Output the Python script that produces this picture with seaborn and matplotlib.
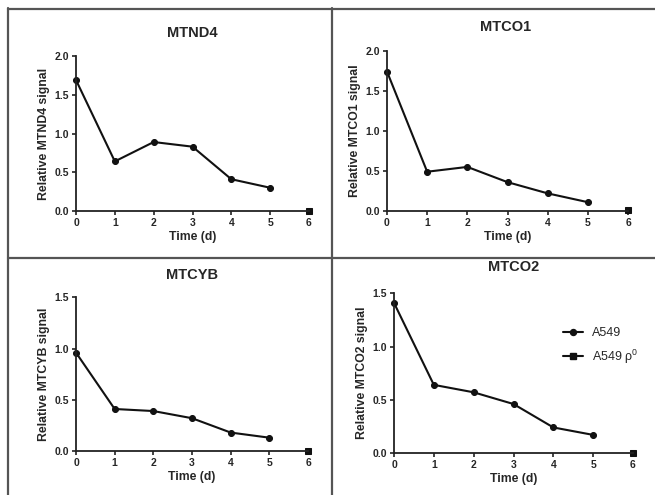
import matplotlib
matplotlib.use("Agg")
import matplotlib.pyplot as plt
import seaborn as sns
import pandas as pd
from matplotlib.lines import Line2D

# ---- data ----
days = [0, 1, 2, 3, 4, 5]
rho_day = [6]
genes = ["MTND4", "MTCO1", "MTCYB", "MTCO2"]
mtnd4 = [1.69, 0.64, 0.89, 0.83, 0.41, 0.30]
mtco1 = [1.74, 0.49, 0.55, 0.36, 0.22, 0.11]
mtcyb = [0.96, 0.41, 0.39, 0.32, 0.18, 0.13]
mtco2 = [1.41, 0.64, 0.57, 0.46, 0.24, 0.17]
rho_mtnd4 = [0.0]
rho_mtco1 = [0.01]
rho_mtcyb = [0.0]
rho_mtco2 = [0.0]
series = {"MTND4": mtnd4, "MTCO1": mtco1, "MTCYB": mtcyb, "MTCO2": mtco2}
rho_series = {"MTND4": rho_mtnd4, "MTCO1": rho_mtco1, "MTCYB": rho_mtcyb, "MTCO2": rho_mtco2}
ymax = {"MTND4": 2.0, "MTCO1": 2.0, "MTCYB": 1.5, "MTCO2": 1.5}
legend_labels = ["A549", "A549 ρ$^{0}$"]

sns.set_theme(style="ticks")
plt.rcParams["font.family"] = ["Liberation Sans", "DejaVu Sans"]
plt.rcParams["mathtext.fontset"] = "custom"
plt.rcParams["mathtext.rm"] = "Liberation Sans"

fig = plt.figure(figsize=(6.55, 4.95), dpi=100)
fig.patch.set_facecolor("white")

W, H = 655.0, 495.0
boxes = {
    "MTND4": (76, 309, 56, 211),
    "MTCO1": (387, 628, 50.7, 211),
    "MTCYB": (76, 308, 297.3, 451),
    "MTCO2": (394, 633, 293.3, 453),
}
titles_pos = {
    "MTND4": (192, 33),
    "MTCO1": (506, 27),
    "MTCYB": (192, 275),
    "MTCO2": (514, 267),
}

for g in genes:
    l, r, t, b = boxes[g]
    ax = fig.add_axes([l / W, 1 - b / H, (r - l) / W, (b - t) / H])
    ax.set_facecolor("none")
    df = pd.DataFrame({"Time": days, "val": series[g]})
    sns.lineplot(data=df, x="Time", y="val", ax=ax, color="#111111", marker="o",
                 markersize=4.3, linewidth=1.5, markeredgecolor="#111111", clip_on=False)
    dfr = pd.DataFrame({"Time": rho_day, "val": rho_series[g]})
    sns.lineplot(data=dfr, x="Time", y="val", ax=ax, color="#111111", marker="s",
                 markersize=4.5, linewidth=1.5, markeredgecolor="#111111", clip_on=False)
    ax.set_xlim(0, 6)
    ax.set_ylim(0, ymax[g])
    ax.set_xticks(range(0, 7))
    yt = [i * 0.5 for i in range(int(ymax[g] / 0.5) + 1)]
    ax.set_yticks(yt)
    ax.set_yticklabels([f"{v:.1f}" for v in yt])
    for s in ["top", "right"]:
        ax.spines[s].set_visible(False)
    for s in ["left", "bottom"]:
        ax.spines[s].set_linewidth(1.3)
        ax.spines[s].set_color("#222222")
    ax.tick_params(axis="both", direction="out", length=3, width=1.2, color="#222222",
                   labelsize=7.5, pad=2)
    for lab in ax.get_xticklabels() + ax.get_yticklabels():
        lab.set_fontweight("bold")
    ax.set_xlabel("Time (d)", fontsize=8.8, fontweight="bold", labelpad=2)
    ax.set_ylabel(f"Relative {g} signal", fontsize=8.8, fontweight="bold", labelpad=3)
    tx, ty = titles_pos[g]
    fig.text(tx / W, 1 - ty / H, g, ha="center", va="center", fontsize=10.5,
             fontweight="bold")
    if g == "MTCO2":
        handles = [
            Line2D([], [], color="#111111", marker="o", markersize=4.3, linewidth=1.5),
            Line2D([], [], color="#111111", marker="s", markersize=4.5, linewidth=1.5),
        ]
        ax.legend(handles, legend_labels, loc="upper left", bbox_to_anchor=(0.66, 0.86),
                  frameon=False, fontsize=9, handlelength=1.6, labelspacing=0.7,
                  handletextpad=0.7)

# panel frame lines
lc = "#555555"
lw = 1.6
fig.add_artist(Line2D([8 / W, 1.0], [1 - 9 / H, 1 - 9 / H], transform=fig.transFigure, color=lc, lw=lw))
fig.add_artist(Line2D([8 / W, 8 / W], [1 - 8 / H, 0], transform=fig.transFigure, color=lc, lw=lw))
fig.add_artist(Line2D([331.5 / W, 331.5 / W], [1 - 8 / H, 0], transform=fig.transFigure, color=lc, lw=lw))
fig.add_artist(Line2D([8 / W, 1.0], [1 - 258 / H, 1 - 258 / H], transform=fig.transFigure, color=lc, lw=lw))

fig.savefig("out.png", dpi=100)
